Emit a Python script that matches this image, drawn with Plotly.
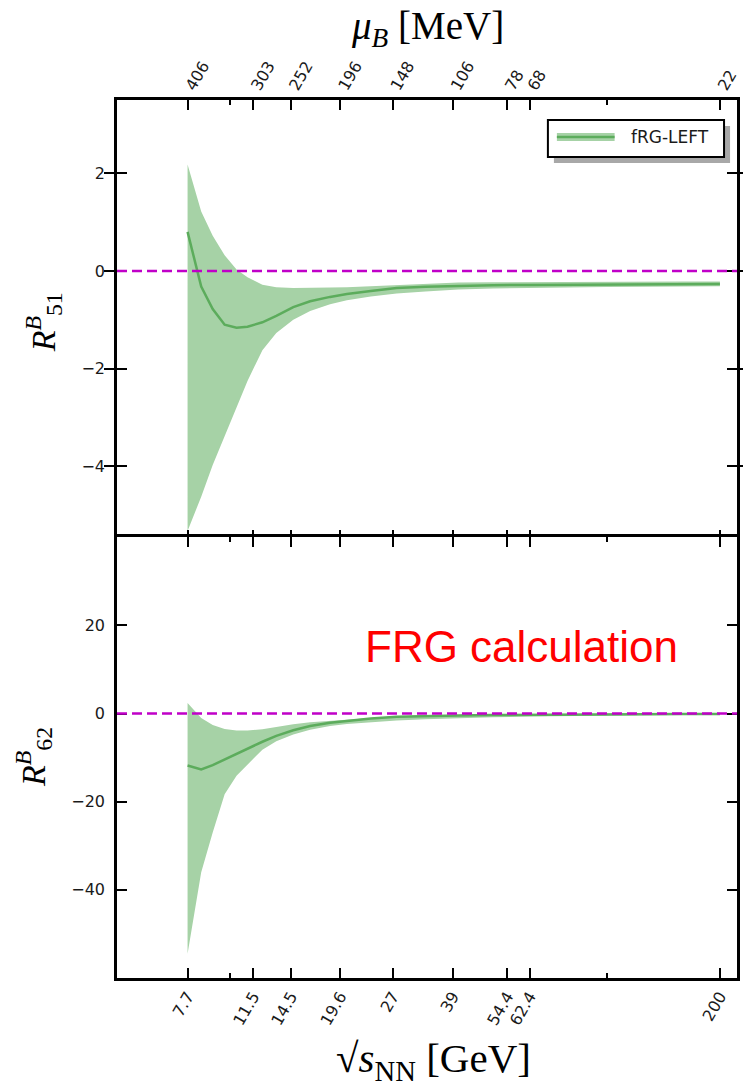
import math
import plotly.graph_objects as go

# Collision energies (sqrt(s_NN) in GeV) at which the ratios are evaluated
sqrt_s = [7.7, 8.37, 8.98, 9.66, 10.39, 11.11, 12.17, 13.25, 14.7, 16.3, 18.41, 20.41,
          23.62, 27.67, 33.0, 40.35, 49.9, 62.5, 78.3, 99.9, 126.7, 158.7, 200.0]

# R^B_51: central value and uncertainty band
r51_mean = [0.80, -0.32, -0.78, -1.10, -1.16, -1.14, -1.05, -0.92, -0.74, -0.62, -0.53, -0.47,
            -0.41, -0.35, -0.32, -0.30, -0.29, -0.285, -0.28, -0.275, -0.27, -0.265, -0.265]
r51_hi = [2.18, 1.22, 0.72, 0.32, 0.03, -0.13, -0.28, -0.33, -0.35, -0.35, -0.34, -0.33,
          -0.31, -0.29, -0.26, -0.235, -0.23, -0.225, -0.22, -0.22, -0.215, -0.215, -0.215]
r51_lo = [-5.32, -4.62, -3.97, -3.37, -2.79, -2.25, -1.62, -1.27, -1.00, -0.82, -0.68, -0.60,
          -0.52, -0.46, -0.42, -0.38, -0.36, -0.345, -0.335, -0.325, -0.32, -0.315, -0.31]

# R^B_62: central value and uncertainty band
r62_mean = [-11.8, -12.7, -11.7, -10.4, -9.2, -8.0, -6.4, -5.05, -3.8, -2.85, -2.1, -1.7,
            -1.1, -0.75, -0.55, -0.42, -0.33, -0.26, -0.21, -0.17, -0.14, -0.12, -0.11]
r62_hi = [2.4, -1.0, -2.6, -3.5, -3.85, -3.85, -3.56, -3.0, -2.45, -1.95, -1.6, -1.35,
          -0.9, -0.6, -0.45, -0.33, -0.25, -0.2, -0.16, -0.13, -0.11, -0.1, -0.09]
r62_lo = [-54.5, -36.0, -27.0, -18.3, -14.1, -11.6, -8.2, -6.3, -4.75, -3.7, -2.85, -2.4,
          -2.0, -1.6, -1.3, -1.05, -0.85, -0.7, -0.55, -0.45, -0.38, -0.33, -0.3]

# Axis ticks: beam energies (bottom) and corresponding baryon chemical potentials (top)
snn_ticks = [7.7, 11.5, 14.5, 19.6, 27, 39, 54.4, 62.4, 200]
snn_labels = ["7.7", "11.5", "14.5", "19.6", "27", "39", "54.4", "62.4", "200"]
mub_labels = ["406", "303", "252", "196", "148", "106", "78", "68", "22"]
minor_ticks = [10, 100]

x_limits = [5.0, 222.0]
r51_limits = [-5.5, 3.5]
r62_limits = [-60, 40]
r51_ticks = [-4, -2, 0, 2]
r62_ticks = [-40, -20, 0, 20]

series_name = "fRG-LEFT"

BAND = "rgb(166,210,166)"
LINE = "rgb(92,172,92)"
ZERO = "#C000C8"
TICK_FONT = dict(family="DejaVu Sans", size=16, color="#1a1a1a")
SERIF = "Liberation Serif"


def fmt(v):
    return str(v).replace("-", "\u2212")


fig = go.Figure()


def add_band(xa, ya, lo, hi, mean):
    fig.add_trace(go.Scatter(x=sqrt_s, y=lo, xaxis=xa, yaxis=ya, mode="lines",
                             line=dict(width=0, color=BAND), showlegend=False,
                             hoverinfo="skip"))
    fig.add_trace(go.Scatter(x=sqrt_s, y=hi, xaxis=xa, yaxis=ya, mode="lines",
                             line=dict(width=0, color=BAND), fill="tonexty",
                             fillcolor=BAND, showlegend=False, hoverinfo="skip"))
    fig.add_trace(go.Scatter(x=sqrt_s, y=mean, xaxis=xa, yaxis=ya, mode="lines",
                             line=dict(width=2.5, color=LINE), showlegend=False,
                             name=series_name))


add_band("x", "y", r51_lo, r51_hi, r51_mean)
add_band("x2", "y2", r62_lo, r62_hi, r62_mean)

# transparent copy on the top (mu_B) axis so that axis gets drawn
fig.add_trace(go.Scatter(x=sqrt_s, y=r51_mean, xaxis="x3", yaxis="y", mode="lines",
                         line=dict(width=0), opacity=0, showlegend=False, hoverinfo="skip"))

xr = [math.log10(x_limits[0]), math.log10(x_limits[1])]
split = 0.5006
overlap = 0.00142  # lets the shared middle frame line coincide for both panels

common_x = dict(type="log", range=xr, tickmode="array", tickvals=snn_ticks,
                ticks="inside", ticklen=10, tickwidth=1.5, tickcolor="black",
                showline=True, linewidth=2.5, linecolor="black", mirror="allticks",
                showgrid=False, zeroline=False,
                minor=dict(tickmode="array", tickvals=minor_ticks, ticks="inside",
                           ticklen=5, tickwidth=1.5, tickcolor="black", showgrid=False))

common_y = dict(ticks="inside", ticklen=10, tickwidth=1.5, tickcolor="black",
                showline=True, linewidth=2.5, linecolor="black", mirror="allticks",
                showgrid=False, zeroline=False, tickfont=TICK_FONT,
                ticklabelstandoff=6)

fig.update_layout(
    width=743, height=1090,
    margin=dict(l=117, r=3, t=100, b=112),
    paper_bgcolor="white", plot_bgcolor="white",
    showlegend=False,
    xaxis=dict(common_x, domain=[0, 1], anchor="y", showticklabels=False),
    xaxis2=dict(common_x, domain=[0, 1], anchor="y2", matches="x", showticklabels=True,
                ticktext=snn_labels, tickangle=-60, tickfont=TICK_FONT),
    xaxis3=dict(type="log", range=xr, overlaying="x", side="top", anchor="y",
                tickmode="array", tickvals=snn_ticks, ticktext=mub_labels,
                tickangle=-60, tickfont=TICK_FONT, ticks="inside", ticklen=10,
                tickwidth=1.5, tickcolor="black", showline=False, showgrid=False,
                zeroline=False),
    yaxis=dict(common_y, domain=[split - overlap, 1], anchor="x", range=r51_limits,
               tickmode="array", tickvals=r51_ticks, ticktext=[fmt(v) for v in r51_ticks]),
    yaxis2=dict(common_y, domain=[0, split + overlap], anchor="x2", range=r62_limits,
                tickmode="array", tickvals=r62_ticks, ticktext=[fmt(v) for v in r62_ticks]),
)

# dashed zero reference lines
for yref in ("y", "y2"):
    fig.add_shape(type="line", xref="x domain", x0=0, x1=1, yref=yref, y0=0, y1=0,
                  line=dict(color=ZERO, width=2.5, dash="10px,5px"))

# legend box with drop shadow, band swatch and label
fig.add_shape(type="rect", xref="paper", yref="paper", x0=0.7047, x1=0.9888,
              y0=0.9283, y1=0.9704, fillcolor="#a8a8a8", line=dict(width=0))
fig.add_shape(type="rect", xref="paper", yref="paper", x0=0.6950, x1=0.9791,
              y0=0.9351, y1=0.9772, fillcolor="white", line=dict(color="black", width=2))
fig.add_shape(type="rect", xref="paper", yref="paper", x0=0.7095, x1=0.8026,
              y0=0.9533, y1=0.9624, fillcolor=BAND, line=dict(width=0))
fig.add_shape(type="line", xref="paper", yref="paper", x0=0.7095, x1=0.8026,
              y0=0.9579, y1=0.9579, line=dict(color=LINE, width=2.5))
fig.add_annotation(text=series_name, xref="paper", yref="paper", x=0.8250, y=0.9579,
                   showarrow=False, xanchor="left", yanchor="middle",
                   font=dict(family="DejaVu Sans", size=17, color="#1a1a1a"))

fig.add_annotation(text="FRG calculation", xref="paper", yref="paper", x=0.652, y=0.377,
                   showarrow=False, xanchor="center", yanchor="middle",
                   font=dict(family="Liberation Sans", size=44, color="red"))

fig.add_annotation(text="<i>\u03bc</i><sub><i>B</i></sub> [MeV]", xref="paper", yref="paper",
                   x=0.501, y=1.081, showarrow=False, xanchor="center", yanchor="middle",
                   font=dict(family=SERIF, size=39, color="black"))

fig.add_annotation(text="\u221a<i>s</i><sub>NN</sub> [GeV]",
                   xref="paper", yref="paper", x=0.51, y=-0.095, showarrow=False,
                   xanchor="center", yanchor="middle",
                   font=dict(family=SERIF, size=41, color="black"))

fig.add_annotation(text="<i>R</i><sup><i>B</i></sup><sub>51</sub>", xref="paper", yref="paper",
                   x=-0.119, y=0.747, textangle=-90, showarrow=False,
                   xanchor="center", yanchor="middle",
                   font=dict(family=SERIF, size=34, color="black"))

fig.add_annotation(text="<i>R</i><sup><i>B</i></sup><sub>62</sub>", xref="paper", yref="paper",
                   x=-0.135, y=0.252, textangle=-90, showarrow=False,
                   xanchor="center", yanchor="middle",
                   font=dict(family=SERIF, size=34, color="black"))

fig.write_html("out.html")
